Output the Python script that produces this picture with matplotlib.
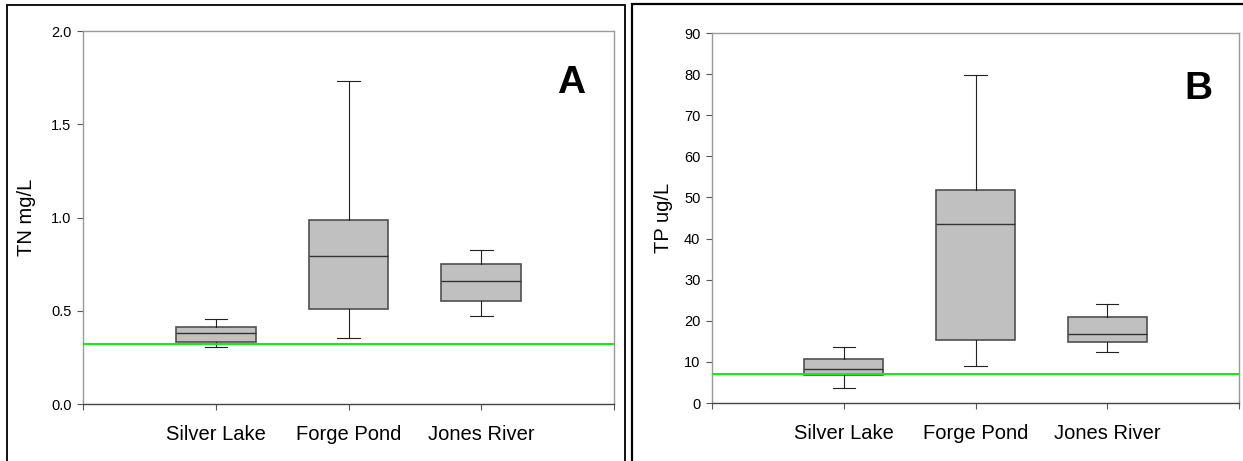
import matplotlib.pyplot as plt
from matplotlib.patches import Rectangle

plt.rcParams['font.family'] = ['Liberation Sans', 'DejaVu Sans']

sites = ['Silver Lake', 'Forge Pond', 'Jones River']

# TN (mg/L): whisker low, Q1, median, Q3, whisker high
tn_low = [0.305, 0.354, 0.471]
tn_q1 = [0.330, 0.511, 0.552]
tn_med = [0.383, 0.793, 0.659]
tn_q3 = [0.411, 0.989, 0.751]
tn_high = [0.454, 1.734, 0.825]
tn_target = 0.32

# TP (ug/L)
tp_low = [3.6, 9.1, 12.4]
tp_q1 = [6.8, 15.3, 14.8]
tp_med = [8.2, 43.5, 16.8]
tp_q3 = [10.6, 51.7, 20.9]
tp_high = [13.7, 79.7, 24.0]
tp_target = 7.0

fig = plt.figure(figsize=(12.43, 4.61), dpi=100)

# panel frames
fig.patches.append(Rectangle((0.0056, -0.1), 0.4972, 1.089, transform=fig.transFigure,
                             fill=False, edgecolor='#111111', linewidth=1.4))
fig.patches.append(Rectangle((0.5085, -0.1), 0.6, 1.091, transform=fig.transFigure,
                             fill=False, edgecolor='black', linewidth=1.6))

ax_a = fig.add_axes([0.0668, 0.1236, 0.4272, 0.809])
ax_b = fig.add_axes([0.5728, 0.1258, 0.424, 0.8026])


def draw_panel(ax, low, q1, med, q3, high, target, ylim, yticks, fmt, ylabel, letter,
               letter_pos, label_x):
    stats = []
    for i in range(len(sites)):
        stats.append({'whislo': low[i], 'q1': q1[i], 'med': med[i],
                      'q3': q3[i], 'whishi': high[i], 'fliers': []})
    ax.bxp(stats, positions=[1, 2, 3], widths=0.6, capwidths=0.17,
           showfliers=False, patch_artist=True,
           boxprops=dict(facecolor='#c0c0c0', edgecolor='#505050', linewidth=1.2),
           medianprops=dict(color='#333333', linewidth=1.0),
           whiskerprops=dict(color='#222222', linewidth=0.8),
           capprops=dict(color='#222222', linewidth=0.8))
    ax.axhline(target, color='#11ee11', linewidth=1.5, zorder=5)
    ax.set_xlim(0, 4)
    ax.set_ylim(*ylim)
    ax.set_xticks([0, 1, 2, 3, 4])
    ax.set_xticklabels([''] + sites + [''], fontsize=14.5)
    ax.set_yticks(yticks)
    ax.set_yticklabels([fmt.format(v) for v in yticks], fontsize=10.5)
    ax.tick_params(axis='y', direction='out', length=4.3, width=0.8, color='#555555', pad=4)
    ax.tick_params(axis='x', direction='out', length=4.3, width=0.8, color='#555555', pad=11)
    for side in ['top', 'right', 'left']:
        ax.spines[side].set_color('#999999')
        ax.spines[side].set_linewidth(1.0)
    ax.spines['bottom'].set_color('#444444')
    ax.spines['bottom'].set_linewidth(1.0)
    ax.set_ylabel(ylabel, fontsize=14.5)
    ax.yaxis.set_label_coords(label_x, 0.5)
    ax.text(letter_pos[0], letter_pos[1], letter, transform=ax.transAxes,
            fontsize=28, fontweight='bold', ha='center', va='baseline')


draw_panel(ax_a, tn_low, tn_q1, tn_med, tn_q3, tn_high, tn_target,
           (0, 2.0), [0.0, 0.5, 1.0, 1.5, 2.0], '{:.1f}', 'TN mg/L', 'A',
           (0.919, 0.834), -0.088)
draw_panel(ax_b, tp_low, tp_q1, tp_med, tp_q3, tp_high, tp_target,
           (0, 90), list(range(0, 91, 10)), '{:d}', 'TP ug/L', 'B',
           (0.923, 0.822), -0.074)

fig.savefig('out.png', dpi=100)
